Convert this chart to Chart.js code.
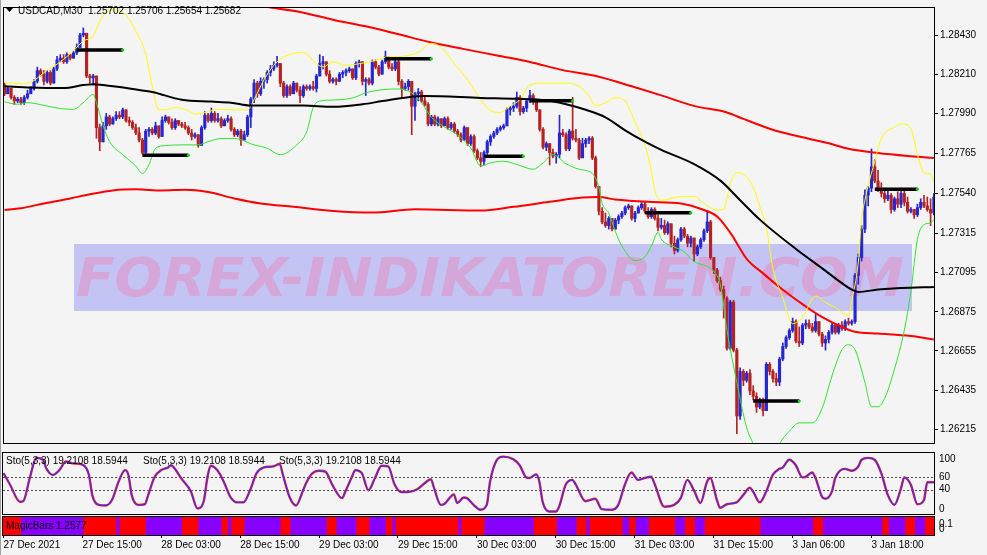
<!DOCTYPE html>
<html>
<head>
<meta charset="utf-8">
<title>USDCAD M30</title>
<script src="https://cdn.jsdelivr.net/npm/chart.js@4.4.1/dist/chart.umd.min.js"></script>
<style>
  html, body { margin: 0; padding: 0; background: #f4f4f4; }
  #wrap { position: relative; width: 987px; height: 555px; overflow: hidden; }
  .pane { position: absolute; left: 0; width: 987px; }
  #mainPane  { top: 0;     height: 451px; }
  #stochPane { top: 451px; height: 65px; }
  #magicPane { top: 516px; height: 39px; }
</style>
</head>
<body>
<div id="wrap">
  <div class="pane" id="mainPane"><canvas id="mainChart"></canvas></div>
  <div class="pane" id="stochPane"><canvas id="stochChart"></canvas></div>
  <div class="pane" id="magicPane"><canvas id="magicChart"></canvas></div>
</div>
<script>
// --- price bars (M30), open of each bar = previous close ---
const firstOpen = 1.2815;
const closes = [
  1.2810,1.2813,1.2808,1.2806,1.2807,1.2805,1.2808,1.2810,1.2813,1.2817,
  1.2823,1.2821,1.2817,1.2822,1.2816,1.2824,1.2829,1.2830,1.2828,1.2832,
  1.2830,1.2833,1.2836,1.2843,1.2844,1.2820,1.2819,1.2820,1.2791,1.2783,
  1.2792,1.2797,1.2793,1.2796,1.2798,1.2797,1.2801,1.2795,1.2794,1.2791,
  1.2788,1.2784,1.2777,1.2789,1.2790,1.2788,1.2792,1.2786,1.2795,1.2797,
  1.2794,1.2791,1.2795,1.2793,1.2792,1.2791,1.2788,1.2786,1.2787,1.2781,
  1.2791,1.2798,1.2795,1.2799,1.2795,1.2796,1.2792,1.2795,1.2796,1.2790,
  1.2787,1.2789,1.2784,1.2787,1.2797,1.2807,1.2816,1.2810,1.2817,1.2818,
  1.2822,1.2824,1.2826,1.2827,1.2816,1.2809,1.2814,1.2810,1.2816,1.2812,
  1.2809,1.2814,1.2813,1.2814,1.2813,1.2820,1.2827,1.2828,1.2821,1.2817,
  1.2818,1.2817,1.2821,1.2822,1.2823,1.2824,1.2819,1.2827,1.2828,1.2817,
  1.2818,1.2816,1.2828,1.2825,1.2821,1.2828,1.2831,1.2825,1.2824,1.2828,
  1.2817,1.2813,1.2814,1.2817,1.2803,1.2810,1.2811,1.2806,1.2804,1.2793,
  1.2797,1.2793,1.2796,1.2792,1.2796,1.2791,1.2793,1.2789,1.2787,1.2784,
  1.2791,1.2782,1.2786,1.2778,1.2774,1.2772,1.2777,1.2783,1.2786,1.2788,
  1.2790,1.2791,1.2792,1.2801,1.2802,1.2803,1.2808,1.2800,1.2802,1.2806,
  1.2809,1.2806,1.2801,1.2790,1.2780,1.2782,1.2777,1.2775,1.2776,1.2788,
  1.2787,1.2779,1.2789,1.2785,1.2784,1.2774,1.2782,1.2784,1.2785,1.2774,
  1.2758,1.2744,1.2738,1.2736,1.2740,1.2734,1.2739,1.2741,1.2743,1.2746,
  1.2747,1.2740,1.2743,1.2746,1.2748,1.2744,1.2741,1.2745,1.2740,1.2735,
  1.2736,1.2732,1.2737,1.2726,1.2722,1.2728,1.2734,1.2730,1.2726,1.2729,
  1.2720,1.2724,1.2728,1.2733,1.2738,1.2718,1.2711,1.2705,1.2700,1.2695,
  1.2667,1.2693,1.2666,1.2629,1.2654,1.2649,1.2653,1.2643,1.2640,1.2634,
  1.2638,1.2632,1.2658,1.2654,1.2650,1.2648,1.2661,1.2668,1.2673,1.2677,
  1.2682,1.2671,1.2670,1.2680,1.2681,1.2679,1.2677,1.2682,1.2675,1.2670,
  1.2672,1.2676,1.2680,1.2676,1.2680,1.2678,1.2682,1.2681,1.2682,1.2708,
  1.2718,1.2734,1.2753,1.2757,1.2769,1.2761,1.2756,1.2754,1.2751,1.2753,
  1.2745,1.2751,1.2748,1.2754,1.2749,1.2744,1.2745,1.2742,1.2746,1.2749,
  1.2747,1.2745,1.2743,1.2752
];
const highs = [
  1.2816,1.2814,1.2813,1.2809,1.2808,1.2808,1.2809,1.2812,1.2814,1.2818,
  1.2825,1.2824,1.2823,1.2823,1.2823,1.2825,1.2831,1.2832,1.2832,1.2833,
  1.2832,1.2834,1.2838,1.2844,1.2847,1.2844,1.2821,1.2821,1.2820,1.2793,
  1.2794,1.2799,1.2798,1.2797,1.2800,1.2800,1.2802,1.2801,1.2797,1.2795,
  1.2793,1.2791,1.2785,1.2790,1.2791,1.2791,1.2794,1.2792,1.2797,1.2798,
  1.2797,1.2796,1.2796,1.2795,1.2794,1.2794,1.2792,1.2790,1.2788,1.2787,
  1.2792,1.2800,1.2799,1.2802,1.2800,1.2799,1.2797,1.2796,1.2798,1.2797,
  1.2791,1.2790,1.2790,1.2789,1.2798,1.2808,1.2818,1.2817,1.2819,1.2819,
  1.2823,1.2826,1.2828,1.2831,1.2827,1.2817,1.2815,1.2815,1.2817,1.2816,
  1.2814,1.2815,1.2815,1.2815,1.2817,1.2821,1.2832,1.2831,1.2828,1.2823,
  1.2819,1.2819,1.2822,1.2823,1.2824,1.2825,1.2824,1.2828,1.2829,1.2828,
  1.2819,1.2819,1.2829,1.2829,1.2826,1.2829,1.2834,1.2831,1.2827,1.2830,
  1.2829,1.2818,1.2816,1.2818,1.2817,1.2811,1.2813,1.2812,1.2809,1.2805,
  1.2798,1.2798,1.2797,1.2796,1.2797,1.2797,1.2794,1.2794,1.2790,1.2788,
  1.2792,1.2791,1.2787,1.2787,1.2779,1.2777,1.2778,1.2784,1.2787,1.2789,
  1.2791,1.2792,1.2793,1.2802,1.2803,1.2805,1.2811,1.2809,1.2803,1.2807,
  1.2812,1.2810,1.2807,1.2801,1.2791,1.2783,1.2782,1.2779,1.2777,1.2798,
  1.2790,1.2788,1.2790,1.2808,1.2790,1.2785,1.2785,1.2785,1.2786,1.2786,
  1.2775,1.2758,1.2746,1.2743,1.2741,1.2740,1.2740,1.2742,1.2744,1.2747,
  1.2748,1.2747,1.2744,1.2747,1.2749,1.2749,1.2746,1.2746,1.2746,1.2742,
  1.2740,1.2739,1.2738,1.2736,1.2730,1.2729,1.2735,1.2735,1.2731,1.2730,
  1.2729,1.2725,1.2729,1.2734,1.2744,1.2739,1.2718,1.2712,1.2707,1.2702,
  1.2696,1.2694,1.2694,1.2667,1.2656,1.2655,1.2654,1.2655,1.2646,1.2642,
  1.2639,1.2639,1.2659,1.2659,1.2655,1.2653,1.2662,1.2670,1.2674,1.2678,
  1.2684,1.2683,1.2679,1.2681,1.2683,1.2683,1.2681,1.2686,1.2682,1.2676,
  1.2674,1.2677,1.2681,1.2681,1.2681,1.2682,1.2683,1.2684,1.2683,1.2709,
  1.2720,1.2736,1.2756,1.2758,1.2779,1.2773,1.2767,1.2760,1.2757,1.2756,
  1.2754,1.2752,1.2755,1.2757,1.2756,1.2752,1.2746,1.2745,1.2748,1.2751,
  1.2753,1.2752,1.2751,1.2754
];
const lows = [
  1.2809,1.2810,1.2807,1.2804,1.2805,1.2804,1.2804,1.2807,1.2810,1.2812,
  1.2816,1.2820,1.2815,1.2816,1.2815,1.2816,1.2823,1.2828,1.2827,1.2827,
  1.2829,1.2830,1.2832,1.2836,1.2842,1.2819,1.2816,1.2815,1.2785,1.2778,
  1.2783,1.2790,1.2792,1.2793,1.2795,1.2796,1.2796,1.2794,1.2792,1.2790,
  1.2787,1.2783,1.2776,1.2776,1.2786,1.2787,1.2787,1.2785,1.2786,1.2794,
  1.2793,1.2790,1.2790,1.2792,1.2791,1.2790,1.2787,1.2784,1.2785,1.2780,
  1.2781,1.2790,1.2794,1.2794,1.2794,1.2794,1.2791,1.2792,1.2794,1.2789,
  1.2786,1.2786,1.2781,1.2784,1.2786,1.2791,1.2805,1.2808,1.2809,1.2813,
  1.2816,1.2820,1.2823,1.2825,1.2814,1.2808,1.2808,1.2809,1.2810,1.2811,
  1.2805,1.2808,1.2812,1.2812,1.2812,1.2811,1.2820,1.2824,1.2820,1.2816,
  1.2816,1.2815,1.2817,1.2819,1.2820,1.2822,1.2818,1.2818,1.2825,1.2815,
  1.2809,1.2815,1.2815,1.2824,1.2820,1.2821,1.2827,1.2824,1.2823,1.2823,
  1.2815,1.2808,1.2812,1.2812,1.2787,1.2795,1.2806,1.2805,1.2803,1.2792,
  1.2792,1.2792,1.2792,1.2791,1.2792,1.2790,1.2790,1.2788,1.2786,1.2783,
  1.2784,1.2781,1.2781,1.2777,1.2773,1.2769,1.2770,1.2776,1.2781,1.2785,
  1.2787,1.2789,1.2790,1.2792,1.2798,1.2800,1.2802,1.2798,1.2799,1.2800,
  1.2805,1.2804,1.2800,1.2789,1.2779,1.2778,1.2770,1.2774,1.2771,1.2774,
  1.2786,1.2778,1.2778,1.2784,1.2783,1.2773,1.2774,1.2780,1.2782,1.2773,
  1.2757,1.2742,1.2737,1.2735,1.2734,1.2733,1.2734,1.2737,1.2740,1.2742,
  1.2745,1.2739,1.2738,1.2743,1.2745,1.2743,1.2740,1.2740,1.2739,1.2733,
  1.2734,1.2731,1.2731,1.2724,1.2720,1.2721,1.2727,1.2729,1.2724,1.2724,
  1.2716,1.2719,1.2723,1.2727,1.2732,1.2717,1.2709,1.2704,1.2699,1.2684,
  1.2666,1.2666,1.2665,1.2619,1.2627,1.2646,1.2648,1.2641,1.2638,1.2631,
  1.2633,1.2629,1.2632,1.2652,1.2648,1.2646,1.2646,1.2660,1.2667,1.2672,
  1.2676,1.2670,1.2668,1.2669,1.2678,1.2678,1.2676,1.2676,1.2674,1.2668,
  1.2666,1.2670,1.2675,1.2675,1.2675,1.2677,1.2677,1.2680,1.2680,1.2681,
  1.2703,1.2716,1.2732,1.2747,1.2755,1.2760,1.2755,1.2752,1.2749,1.2750,
  1.2743,1.2744,1.2746,1.2746,1.2747,1.2743,1.2743,1.2740,1.2741,1.2745,
  1.2746,1.2744,1.2736,1.2742
];

// --- indicator lines, sampled at bar indices ---
const upperRedBars = [62,72,80,90,100,110,120,130,140,150,160,170,181,191,200,210,220,225,233,240,251,257,266,276,283];
const upperRed = [1.28636,1.28609,1.28587,1.28560,1.28516,1.28479,1.28434,1.28388,1.28351,1.28315,1.28279,1.28233,1.28196,1.28142,1.28091,1.28032,1.27995,1.27959,1.27904,1.27868,1.27822,1.27791,1.27767,1.27749,1.27739];

const lowerRedBars = [0,5,12,20,26,33,40,48,55,62,70,78,88,100,112,125,145,155,166,176,181,186,196,206,213,217,221,226,231,237,243,249,255,259,266,276,283];
const lowerRed = [1.27447,1.27457,1.27484,1.27512,1.27535,1.27557,1.27563,1.27557,1.27561,1.27548,1.27512,1.27484,1.27465,1.27442,1.27433,1.27451,1.27444,1.27465,1.27493,1.27517,1.27520,1.27506,1.27493,1.27484,1.27447,1.27411,1.27320,1.27173,1.27091,1.26999,1.26918,1.26845,1.26790,1.26763,1.26753,1.26739,1.26720];

const maBars = [0,8,18,24,27,30,39,45,54,63,69,75,91,100,109,115,123,128,145,156,165,171,177,183,189,195,200,210,218,224,230,241,249,255,258,260,266,273,283];
const maLine = [1.28143,1.28135,1.28132,1.28149,1.28154,1.28149,1.28127,1.28110,1.28066,1.28056,1.28050,1.28034,1.28034,1.28027,1.28041,1.28059,1.28081,1.28087,1.28077,1.28072,1.28063,1.28041,1.28010,1.27968,1.27895,1.27831,1.27785,1.27705,1.27612,1.27502,1.27393,1.27228,1.27119,1.27036,1.27000,1.26987,1.27000,1.27009,1.27015];

const bandUpBars = [0,5,8,13,17,21,24,27,29,31,33,37,40,43,45,47,49,52,56,58,62,65,70,74,76,79,82,85,91,95,97,100,104,108,113,117,120,126,130,133,137,141,145,148,151,154,157,160,164,171,175,178,180,183,186,189,192,195,197,198,200,205,210,213,217,219,221,223,225,228,230,232,234,237,240,243,247,250,253,257,258,260,261,262,265,267,271,273,276,278,280,282,283];
const bandUp = [1.28164,1.28156,1.28164,1.28233,1.28279,1.28342,1.28397,1.28424,1.28507,1.28561,1.28571,1.28543,1.28452,1.28324,1.28142,1.28010,1.28010,1.28023,1.28005,1.27986,1.27999,1.28013,1.28010,1.28010,1.28068,1.28178,1.28260,1.28306,1.28333,1.28269,1.28251,1.28279,1.28260,1.28269,1.28287,1.28309,1.28309,1.28333,1.28383,1.28361,1.28269,1.28178,1.28068,1.28005,1.27995,1.28032,1.28068,1.28150,1.28160,1.28160,1.28142,1.28087,1.28032,1.28050,1.28078,1.28059,1.27941,1.27813,1.27667,1.27557,1.27502,1.27520,1.27524,1.27484,1.27447,1.27451,1.27594,1.27657,1.27648,1.27575,1.27466,1.27347,1.27119,1.26954,1.26808,1.26845,1.26964,1.26927,1.26900,1.26854,1.26936,1.27155,1.27393,1.27502,1.27721,1.27849,1.27913,1.27931,1.27904,1.27758,1.27657,1.27648,1.27603];

const bandLowBars = [0,4,7,12,17,21,24,27,28,30,32,36,40,42,44,46,49,54,59,62,66,70,76,80,84,89,92,94,96,100,106,110,115,120,124,127,130,134,138,142,145,148,152,156,161,164,167,171,175,179,181,182,184,186,188,192,195,197,199,200,204,207,210,214,216,218,220,223,226,228,232,236,239,242,246,249,252,255,257,259,262,264,266,268,271,274,276,278,280,282,283];
const bandLow = [1.28054,1.28041,1.28050,1.28035,1.28017,1.28013,1.28050,1.28096,1.28050,1.27922,1.27831,1.27758,1.27694,1.27652,1.27703,1.27794,1.27809,1.27813,1.27813,1.27831,1.27849,1.27849,1.27813,1.27794,1.27758,1.27813,1.27886,1.28023,1.28059,1.28065,1.28077,1.28105,1.28123,1.28127,1.28105,1.28050,1.27968,1.27913,1.27868,1.27794,1.27694,1.27712,1.27721,1.27703,1.27676,1.27712,1.27758,1.27707,1.27676,1.27652,1.27575,1.27484,1.27429,1.27327,1.27245,1.27163,1.27184,1.27245,1.27321,1.27283,1.27239,1.27212,1.27157,1.27130,1.27102,1.27027,1.26772,1.26479,1.26224,1.26133,1.25968,1.26133,1.26205,1.26251,1.26251,1.26334,1.26516,1.26662,1.26690,1.26662,1.26479,1.26342,1.26342,1.26388,1.26553,1.26772,1.26991,1.27283,1.27365,1.27375,1.27393];

// MagicBars level marks
const levelFrom = [22, 42, 116, 146, 160, 195, 228, 265];
const levelTo = [36, 56, 130, 158, 173, 209, 242, 278];
const levelPrice = [1.28346, 1.27754, 1.28297, 1.27749, 1.28061, 1.27431, 1.26374, 1.27563];

// axes
const priceTicks = [1.28430, 1.28210, 1.27990, 1.27765, 1.27540, 1.27315, 1.27095, 1.26875, 1.26655, 1.26435, 1.26215];
const timeTickBars = [0, 24, 48, 72, 96, 120, 144, 168, 192, 216, 240, 264];
const timeLabels = ['27 Dec 2021', '27 Dec 15:00', '28 Dec 03:00', '28 Dec 15:00', '29 Dec 03:00', '29 Dec 15:00',
                    '30 Dec 03:00', '30 Dec 15:00', '31 Dec 03:00', '31 Dec 15:00', '3 Jan 06:00', '3 Jan 18:00'];

// Stochastic (5,3,3)
const stochBars = [0,2,5,6,8,10,12,13,15,17,19,21,24,26,27,29,31,33,35,37,38,39,41,43,44,46,48,50,51,52,54,57,59,61,62,63,65,67,69,71,73,75,77,79,82,84,85,87,89,91,92,94,96,98,100,103,104,106,107,109,111,113,115,117,119,121,123,126,128,130,131,133,134,137,138,140,141,143,145,147,148,150,152,155,157,159,160,162,163,164,166,168,169,171,173,174,177,180,182,185,187,189,191,193,195,197,198,201,204,206,208,210,212,214,215,217,218,220,223,225,227,228,230,232,234,236,237,239,241,243,244,246,247,249,250,252,253,256,258,260,261,263,265,267,269,271,273,274,276,278,280,281,283];
const stochValues = [67,48,20,21,59,92,89,75,64,72,86,83,81,64,31,15,14,23,53,72,64,31,15,16,31,61,72,76,80,75,59,37,9,23,59,79,72,53,28,19,19,39,67,76,78,82,64,28,14,37,50,67,71,69,48,26,37,61,72,67,39,59,79,78,48,36,36,41,50,57,42,15,16,32,18,27,26,15,7,15,53,88,94,90,80,60,59,65,53,20,4,4,12,48,56,49,21,25,8,7,15,48,68,56,59,61,50,12,15,26,56,39,18,53,59,23,10,16,19,31,43,37,19,37,64,74,76,89,80,60,61,68,59,28,25,37,59,74,71,78,89,92,89,67,31,15,42,60,48,16,23,52,52];
const stochLevels = [60, 40];

// MagicBars state runs, starting red, alternating red / violet
const magicRuns = [6,19,10,1,8,11,5,7,2,1,4,11,3,11,3,6,4,5,2,1,19,1,7,15,7,6,3,1,10,2,2,4,8,3,3,3,17,16,3,18,2,5,3,3,3];

const titleText = 'USDCAD,M30  1.25702 1.25706 1.25654 1.25682';
const stochText = 'Sto(5,3,3) 19.2108 18.5944';
const magicText = 'MagicBars 1.2577';
const watermarkText = 'FOREX-INDIKATOREN.COM';

// --- build ---
const FONT = "'Liberation Sans', Arial, sans-serif";
Chart.defaults.font.family = FONT;
Chart.defaults.font.size = 10;
Chart.defaults.color = '#000';
Chart.defaults.animation = false;

const BG = '#f4f4f4', BULL = '#2626d2', BEAR = '#b42222';
const X_MIN = -0.15, X_MAX = 283.04;

const opens = closes.map((c, i) => i === 0 ? firstOpen : closes[i - 1]);
const candleColors = closes.map((c, i) => c >= opens[i] ? BULL : BEAR);
const bodies = closes.map((c, i) => ({ x: i, y: [opens[i], c] }));
const wicks = closes.map((c, i) => ({ x: i, y: [Math.min(lows[i], opens[i], c), Math.max(highs[i], opens[i], c)] }));
const pts = (xs, ys) => xs.map((x, k) => ({ x, y: ys[k] }));

const magicColors = [];
magicRuns.forEach((len, k) => { for (let j = 0; j < len; j++) magicColors.push(k % 2 === 0 ? '#ff0000' : '#8800ff'); });

const hiddenX = { type: 'linear', min: X_MIN, max: X_MAX, display: false, offset: false };
const rightAxis = (extra) => Object.assign({
  position: 'right',
  afterFit: s => { s.width = 53; },
  grid: { display: false },
  border: { display: true, color: '#000' },
  ticks: { display: false }
}, extra);

const paneBg = {
  id: 'paneBg',
  beforeDraw(chart) {
    const ctx = chart.ctx;
    ctx.save(); ctx.fillStyle = BG; ctx.fillRect(0, 0, chart.width, chart.height); ctx.restore();
  }
};
const paneFrame = {
  id: 'paneFrame',
  afterDraw(chart) {
    const { ctx, chartArea: a } = chart;
    ctx.save();
    ctx.strokeStyle = '#000'; ctx.lineWidth = 1;
    ctx.strokeRect(a.left - 0.5, a.top - 0.5, a.right - a.left + 1, a.bottom - a.top + 1);
    ctx.strokeStyle = '#a0a0a0';
    ctx.beginPath(); ctx.moveTo(0.5, 0); ctx.lineTo(0.5, chart.height); ctx.stroke();
    ctx.restore();
  }
};

const watermark = {
  id: 'watermark',
  beforeDatasetsDraw(chart) {
    const ctx = chart.ctx;
    ctx.save();
    ctx.fillStyle = '#c4c4f4';
    ctx.fillRect(74, 244, 838, 67);
    ctx.font = "italic bold 53px 'DejaVu Sans'";
    const w = ctx.measureText(watermarkText).width;
    ctx.translate(76, 296);
    ctx.scale(828 / w, 1);
    ctx.fillStyle = '#d5a6d8';
    ctx.fillText(watermarkText, 0, 0);
    ctx.restore();
  }
};
const mainTitle = {
  id: 'mainTitle',
  afterDraw(chart) {
    const ctx = chart.ctx;
    ctx.save();
    ctx.fillStyle = '#000';
    ctx.beginPath(); ctx.moveTo(6, 8); ctx.lineTo(13, 8); ctx.lineTo(9.5, 12); ctx.closePath(); ctx.fill();
    ctx.font = '10px ' + FONT; ctx.textBaseline = 'middle';
    ctx.fillText(titleText, 18, 11);
    ctx.restore();
  }
};

const levelSets = levelFrom.map((from, k) => ({
  type: 'line',
  data: [{ x: from, y: levelPrice[k] }, { x: levelTo[k], y: levelPrice[k] }],
  borderColor: '#000', borderWidth: 3.5, borderCapStyle: 'butt',
  pointRadius: [0, 1.6], pointBackgroundColor: '#00e000', pointBorderWidth: 0,
  order: 0
}));
const line = (data, color, width, order) => ({
  type: 'line', data, borderColor: color, borderWidth: width,
  pointRadius: 0, tension: 0.4, cubicInterpolationMode: 'monotone', order
});

new Chart(document.getElementById('mainChart'), {
  type: 'bar',
  data: {
    datasets: [
      ...levelSets,
      line(pts(maBars, maLine), '#000000', 2, 1),
      line(pts(bandUpBars, bandUp), '#ffff00', 1, 2),
      line(pts(bandLowBars, bandLow), '#2ee62e', 1, 2),
      line(pts(upperRedBars, upperRed), '#ff0000', 2, 3),
      line(pts(lowerRedBars, lowerRed), '#ff0000', 2, 3),
      { type: 'bar', data: bodies, backgroundColor: candleColors, barThickness: 2.5, grouped: false, minBarLength: 1, order: 4 },
      { type: 'bar', data: wicks, backgroundColor: candleColors, barThickness: 1, grouped: false, order: 5 }
    ]
  },
  options: {
    responsive: true, maintainAspectRatio: false,
    layout: { padding: { left: 3, top: 3, right: 0, bottom: 2 } },
    plugins: { legend: { display: false }, tooltip: { enabled: false } },
    scales: {
      x: hiddenX,
      y: {
        position: 'right', min: 1.26138, max: 1.28582,
        afterFit: s => { s.width = 53; },
        afterBuildTicks: s => { s.ticks = priceTicks.map(v => ({ value: v })); },
        ticks: { callback: v => v.toFixed(5), padding: 2, color: '#000' },
        grid: { drawOnChartArea: false, tickLength: 4, color: '#000' },
        border: { display: true, color: '#000' }
      }
    }
  },
  plugins: [paneBg, watermark, paneFrame, mainTitle]
});

const stochDeco = {
  id: 'stochDeco',
  beforeDatasetsDraw(chart) {
    const { ctx, chartArea: a, scales: { y } } = chart;
    ctx.save();
    ctx.strokeStyle = '#505050'; ctx.lineWidth = 1; ctx.setLineDash([2, 2]);
    stochLevels.forEach(v => {
      const py = Math.round(y.getPixelForValue(v)) + 0.5;
      ctx.beginPath(); ctx.moveTo(a.left, py); ctx.lineTo(a.right, py); ctx.stroke();
    });
    ctx.restore();
  },
  afterDraw(chart) {
    const { ctx, chartArea: a, scales: { y } } = chart;
    ctx.save();
    ctx.font = '10px ' + FONT; ctx.fillStyle = '#000'; ctx.textBaseline = 'middle';
    [6, 143, 279].forEach(x => ctx.fillText(stochText, x, 10.5));
    const lx = a.right + 5;
    ctx.fillText('100', lx, y.getPixelForValue(100) + 6.5);
    stochLevels.forEach(v => ctx.fillText(String(v), lx, y.getPixelForValue(v)));
    ctx.fillText('0', lx, y.getPixelForValue(0) - 4.5);
    ctx.restore();
  }
};

new Chart(document.getElementById('stochChart'), {
  type: 'line',
  data: {
    datasets: [
      { data: pts(stochBars, stochValues), borderColor: '#3030ff', borderWidth: 1.2, pointRadius: 0, tension: 0.4, cubicInterpolationMode: 'monotone', order: 0 },
      { data: pts(stochBars, stochValues), borderColor: '#ff2020', borderWidth: 2.4, pointRadius: 0, tension: 0.4, cubicInterpolationMode: 'monotone', order: 1 }
    ]
  },
  options: {
    responsive: true, maintainAspectRatio: false,
    layout: { padding: { left: 3, top: 2, right: 0, bottom: 2 } },
    plugins: { legend: { display: false }, tooltip: { enabled: false } },
    scales: { x: hiddenX, y: rightAxis({ min: 0, max: 100 }) }
  },
  plugins: [paneBg, stochDeco, paneFrame]
});

const magicDeco = {
  id: 'magicDeco',
  afterDraw(chart) {
    const { ctx, chartArea: a } = chart;
    ctx.save();
    ctx.font = '10px ' + FONT; ctx.fillStyle = '#000'; ctx.textBaseline = 'middle';
    ctx.fillText(magicText, 6, 10.5);
    ctx.fillText('0.1', a.right + 5, 8.5);
    ctx.fillText('0', a.right + 5, 13.5);
    ctx.restore();
  }
};

new Chart(document.getElementById('magicChart'), {
  type: 'bar',
  data: {
    datasets: [{ data: magicColors.map((c, i) => ({ x: i, y: [0, 1] })), backgroundColor: magicColors, barThickness: 3.9, grouped: false }]
  },
  options: {
    responsive: true, maintainAspectRatio: false,
    layout: { padding: { left: 3, top: 1, right: 0, bottom: 0 } },
    plugins: { legend: { display: false }, tooltip: { enabled: false } },
    scales: {
      x: {
        type: 'linear', min: X_MIN, max: X_MAX, offset: false,
        afterFit: s => { s.height = 20; },
        afterBuildTicks: s => { s.ticks = timeTickBars.map(v => ({ value: v })); },
        ticks: { callback: (v, i) => timeLabels[i], align: 'start', maxRotation: 0, autoSkip: false, padding: 1, color: '#000' },
        grid: { drawOnChartArea: false, tickLength: 3, color: '#000', offset: false },
        border: { display: true, color: '#000' }
      },
      y: rightAxis({ min: 0, max: 1 })
    }
  },
  plugins: [paneBg, magicDeco, paneFrame]
});
</script>
</body>
</html>
